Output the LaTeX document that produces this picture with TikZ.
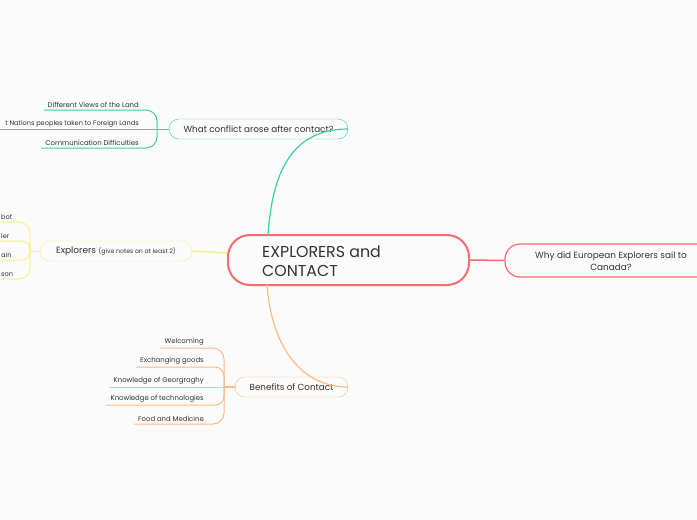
\documentclass[tikz,border=0pt]{standalone}
\usepackage{fontspec}
\setmainfont{Poppins}
\definecolor{bgc}{RGB}{251,251,251}
\definecolor{redc}{RGB}{245,108,108}
\definecolor{greenc}{RGB}{62,206,160}
\definecolor{yellowc}{RGB}{248,238,140}
\definecolor{orangec}{RGB}{255,186,132}
\definecolor{txt}{RGB}{50,50,50}
\begin{document}
\begin{tikzpicture}[x=1pt,y=-1pt,
  every node/.style={text=txt},
  topic/.style={draw, rounded corners=10pt, minimum height=20pt, inner sep=0pt, font=\fontsize{8.8}{10}\selectfont},
  childtxt/.style={anchor=south east, inner xsep=4pt, inner ysep=2pt, font=\fontsize{6.9}{8}\selectfont},
  fragtxt/.style={anchor=south west, inner xsep=0pt, inner ysep=2pt, font=\fontsize{6.6}{8}\selectfont},
  conn/.style={line width=1pt, rounded corners=11pt}
]
\fill[bgc] (0,0) rectangle (697,520);
\useasboundingbox (0,0) rectangle (697,520);

% central
\node[draw=redc, line width=2pt, rounded corners=22pt, minimum width=241pt, minimum height=50pt, inner sep=0pt] (central) at (348.5,260) {};
\node[anchor=base west, inner sep=0pt, font=\fontsize{15.8}{19}\selectfont] (ctext1) at (262,257) {EXPLORERS and};
\node[anchor=base west, inner sep=0pt, font=\fontsize{15.8}{19}\selectfont] (ctext2) at (262,276) {CONTACT};

% right topic
\node[draw=redc, line width=1.2pt, rounded corners=15pt, minimum width=220pt, minimum height=33pt, inner sep=0pt] (why) at (615,260.5) {};
\node[anchor=base, inner sep=0pt, font=\fontsize{8.9}{10}\selectfont] (whytext1) at (611,258) {Why did European Explorers sail to};
\node[anchor=base, inner sep=0pt, font=\fontsize{8.9}{10}\selectfont] (whytext2) at (611,270.5) {Canada?};
\draw[redc, line width=1.5pt] (central.east) -- (why.west);

% conflict topic
\node[topic, draw=greenc, minimum width=179pt] (conflict) at (258.5,129) {What conflict arose after contact?};
\coordinate (cstart) at (268,235.5);
\draw[greenc, line width=1.2pt] (cstart) .. controls (272,175) and (290,129) .. (conflict.east);
\coordinate (gj) at (157,129);
\draw[greenc, line width=1pt] (gj) -- (conflict.west);
\node[childtxt] (g1) at (143,110) {Different Views of the Land};
\node[childtxt, font=\fontsize{6.6}{8}\selectfont] (g2) at (143,129) {t Nations peoples taken to Foreign Lands};
\node[childtxt] (g3) at (143,148) {Communication Difficulties};
\draw[greenc, conn] (g1.south west) -- (gj |- g1.south) -- (gj |- g3.south) -- (g3.south west);
\coordinate (g2l) at (0,129);
\draw[greenc, conn] (g2l) -- (gj);

% explorers topic
\node[topic, draw=yellowc, minimum width=152pt] (explorers) at (116,251) {\fontsize{9}{10}\selectfont Explorers {\fontsize{6.2}{7}\selectfont(give notes on at least 2)}};
\draw[yellowc, line width=1.5pt] (explorers.east) -- (central);
\coordinate (yj) at (30,251);
\draw[yellowc, line width=1pt] (yj) -- (explorers.west);
\node[fragtxt] (y1) at (1,222) {bot};
\node[fragtxt] (y2) at (1,241) {ier};
\node[fragtxt] (y3) at (1,260) {ain};
\node[fragtxt] (y4) at (1,279) {son};
\coordinate (y1l) at (0,222);
\coordinate (y2l) at (0,241);
\coordinate (y3l) at (0,260);
\coordinate (y4l) at (0,279);
\draw[yellowc, conn] (y1l) -- (yj |- y1l) -- (yj);
\draw[yellowc, conn, rounded corners=8pt] (y2l) -- (yj |- y2l) -- (yj);
\draw[yellowc, conn, rounded corners=8pt] (y3l) -- (yj |- y3l) -- (yj);
\draw[yellowc, conn] (y4l) -- (yj |- y4l) -- (yj);

% benefits topic
\node[topic, draw=orangec, minimum width=113pt] (benefits) at (291.5,387) {Benefits of Contact};
\coordinate (bstart) at (267,284.5);
\draw[orangec, line width=1.2pt] (bstart) .. controls (271,342) and (298,387) .. (benefits.east);
\coordinate (oj) at (224,387);
\draw[orangec, line width=1.5pt] (oj) -- (benefits.west);
\node[childtxt] (o1) at (208,348) {Welcoming};
\node[childtxt] (o2) at (208,367) {Exchanging goods};
\node[childtxt] (o3) at (208,387) {Knowledge of Georgraghy};
\node[childtxt] (o4) at (208,405) {Knowledge of technologies};
\node[childtxt] (o5) at (208,424) {Food and Medicine};
\draw[orangec, conn] (o1.south west) -- (oj |- o1.south) -- (oj);
\draw[orangec, conn, rounded corners=9pt] (o2.south west) -- (oj |- o2.south) -- (oj);
\draw[orangec, conn] (o3.south west) -- (oj);
\draw[orangec, conn, rounded corners=9pt] (o4.south west) -- (oj |- o4.south) -- (oj);
\draw[orangec, conn] (o5.south west) -- (oj |- o5.south) -- (oj);
\end{tikzpicture}
\end{document}
